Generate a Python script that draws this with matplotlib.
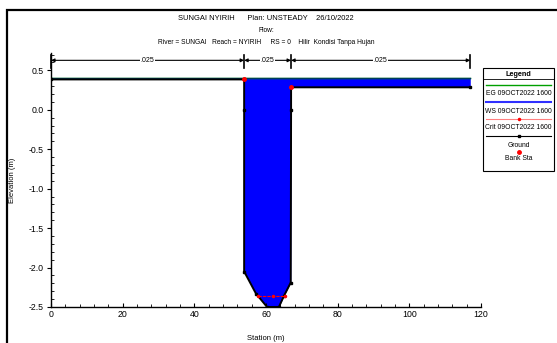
import numpy as np
import matplotlib.pyplot as plt
from matplotlib.patches import Rectangle
from matplotlib.lines import Line2D

plt.rcParams['font.family'] = ['Liberation Sans', 'DejaVu Sans']

# cross section data
station = [0, 53.9, 53.9, 53.9, 57.2, 60.3, 63.6, 65.0, 66.9, 67.0, 67.0, 117]
ground = [0.385, 0.385, 0.0, -2.05, -2.33, -2.5, -2.5, -2.36, -2.19, 0.0, 0.285, 0.285]
bank_sta = [53.9, 67.0]
bank_elev = [0.385, 0.285]
ws_elev = 0.40
eg_elev = 0.405
crit_sta = [57.9, 62.0, 65.3]
crit_elev = -2.36
n_breaks = [0, 53.9, 67.0, 117]
n_values = [".025", ".025", ".025"]
legend_labels = ["EG 09OCT2022 1600", "WS 09OCT2022 1600", "Crit 09OCT2022 1600", "Ground", "Bank Sta"]


def main():
    W, H = 557, 343
    fig = plt.figure(figsize=(W / 100, H / 100), dpi=100)

    # outer frame
    fig.patches.append(Rectangle((7 / W, -0.1), 1.2, (H - 10) / H + 0.1, transform=fig.transFigure,
                                 fill=False, lw=1.6, ec="black"))

    ax = fig.add_axes([51 / W, (H - 307) / H, 430 / W, 254 / H])
    ax.set_xlim(0, 120)
    ax.set_ylim(-2.5, 0.72)
    for s in ["top", "right"]:
        ax.spines[s].set_visible(False)
    ax.spines["left"].set_linewidth(1.0)
    ax.spines["bottom"].set_linewidth(1.0)

    st = np.array(station)
    gr = np.array(ground)
    ax.fill_between(st, gr, ws_elev, where=gr < ws_elev, color="#0000ff", lw=0, interpolate=True)
    ax.plot([0, 117], [eg_elev, eg_elev], color="#00a000", lw=1.0)
    ax.plot([0, 117], [ws_elev, ws_elev], color="#003c5a", lw=1.0)
    ax.plot(st, gr, color="black", lw=1.4, marker="s", ms=2, zorder=4)
    ax.plot([crit_sta[0], crit_sta[-1]], [crit_elev, crit_elev], color="red", lw=0.8, ls=(0, (3, 1)), zorder=5)
    ax.plot(crit_sta, [crit_elev] * 3, "o", color="red", ms=1.5, zorder=5)
    ax.plot(bank_sta, bank_elev, "o", color="red", ms=2.5, zorder=6)

    # Manning's n annotation
    ya = 0.627
    for i in range(len(n_values)):
        x0, x1 = n_breaks[i], n_breaks[i + 1]
        ax.annotate("", xy=(x0, ya), xytext=(x1, ya),
                    arrowprops=dict(arrowstyle="<|-|>", color="black", lw=0.8,
                                    mutation_scale=5, shrinkA=0, shrinkB=0))
        ax.text((x0 + x1) / 2, ya, n_values[i], ha="center", va="center", fontsize=5,
                bbox=dict(fc="white", ec="none", pad=0.5))
    for xb in n_breaks:
        ax.plot([xb, xb], [0.53, 0.70], color="black", lw=1.2, clip_on=False)

    ax.set_xticks(np.arange(0, 121, 20))
    ax.set_xticks(np.arange(0, 121, 4), minor=True)
    ax.set_yticks(np.arange(-2.5, 0.51, 0.5))
    ax.set_yticks(np.arange(-2.5, 0.71, 0.1), minor=True)
    ax.set_yticklabels([f"{v:.1f}" for v in np.arange(-2.5, 0.51, 0.5)])
    ax.tick_params(axis="both", which="major", labelsize=6.3, length=3, width=0.8, pad=2)
    ax.tick_params(axis="x", which="both", direction="in")
    ax.tick_params(axis="y", which="minor", direction="in", length=2)
    ax.tick_params(axis="x", which="minor", length=2)
    ax.set_xlabel("Station (m)", fontsize=5.5)
    ax.set_ylabel("Elevation (m)", fontsize=5.5)
    ax.xaxis.set_label_coords(0.5, -0.11)
    ax.yaxis.set_label_coords(-0.081, 0.5)

    cx = (51 + 481) / 2 / W
    fig.text(cx, 1 - 19 / H, "SUNGAI NYIRIH      Plan: UNSTEADY    26/10/2022", ha="center", va="center", fontsize=5.4)
    fig.text(cx, 1 - 31 / H, "Flow:", ha="center", va="center", fontsize=4.8)
    fig.text(cx, 1 - 42 / H, "River = SUNGAI   Reach = NYIRIH     RS = 0    Hilir  Kondisi Tanpa Hujan",
             ha="center", va="center", fontsize=4.8)

    # legend box drawn by hand
    lx0, lx1, ly0, ly1 = 483, 554, 68, 171
    fig.patches.append(Rectangle((lx0 / W, 1 - ly1 / H), (lx1 - lx0) / W, (ly1 - ly0) / H,
                                 transform=fig.transFigure, fill=False, lw=0.8, ec="black"))
    fig.text((lx0 + lx1) / 2 / W, 1 - 74 / H, "Legend", ha="center", va="center", fontsize=5.2, weight="bold")
    fig.lines.append(Line2D([lx0 / W, lx1 / W], [1 - 79 / H] * 2, transform=fig.transFigure, color="black", lw=0.6))
    mx = (lx0 + lx1) / 2
    sym_y = [85, 102, 119, 136, 152]
    txt_y = [93, 111, 127, 145, 159]
    styles = [dict(color="#00a000", lw=1.0), dict(color="#3030ff", lw=1.5),
              dict(color="#ff8080", lw=0.8), dict(color="black", lw=0.8), None]
    for i, lab in enumerate(legend_labels):
        y = 1 - sym_y[i] / H
        if styles[i] is not None:
            fig.lines.append(Line2D([(lx0 + 3) / W, (lx1 - 3) / W], [y, y], transform=fig.transFigure, **styles[i]))
        if i == 2:
            fig.lines.append(Line2D([mx / W], [y], transform=fig.transFigure, marker="o", ms=1.5, color="red", lw=0))
        if i == 3:
            fig.lines.append(Line2D([mx / W], [y], transform=fig.transFigure, marker="s", ms=2, color="black", lw=0))
        if i == 4:
            fig.lines.append(Line2D([mx / W], [y], transform=fig.transFigure, marker="o", ms=2.5, color="red", lw=0))
        fig.text(mx / W, 1 - txt_y[i] / H, lab, ha="center", va="center", fontsize=4.9)

    fig.savefig("out.png", dpi=100)
    plt.close(fig)


if __name__ == "__main__":
    main()
